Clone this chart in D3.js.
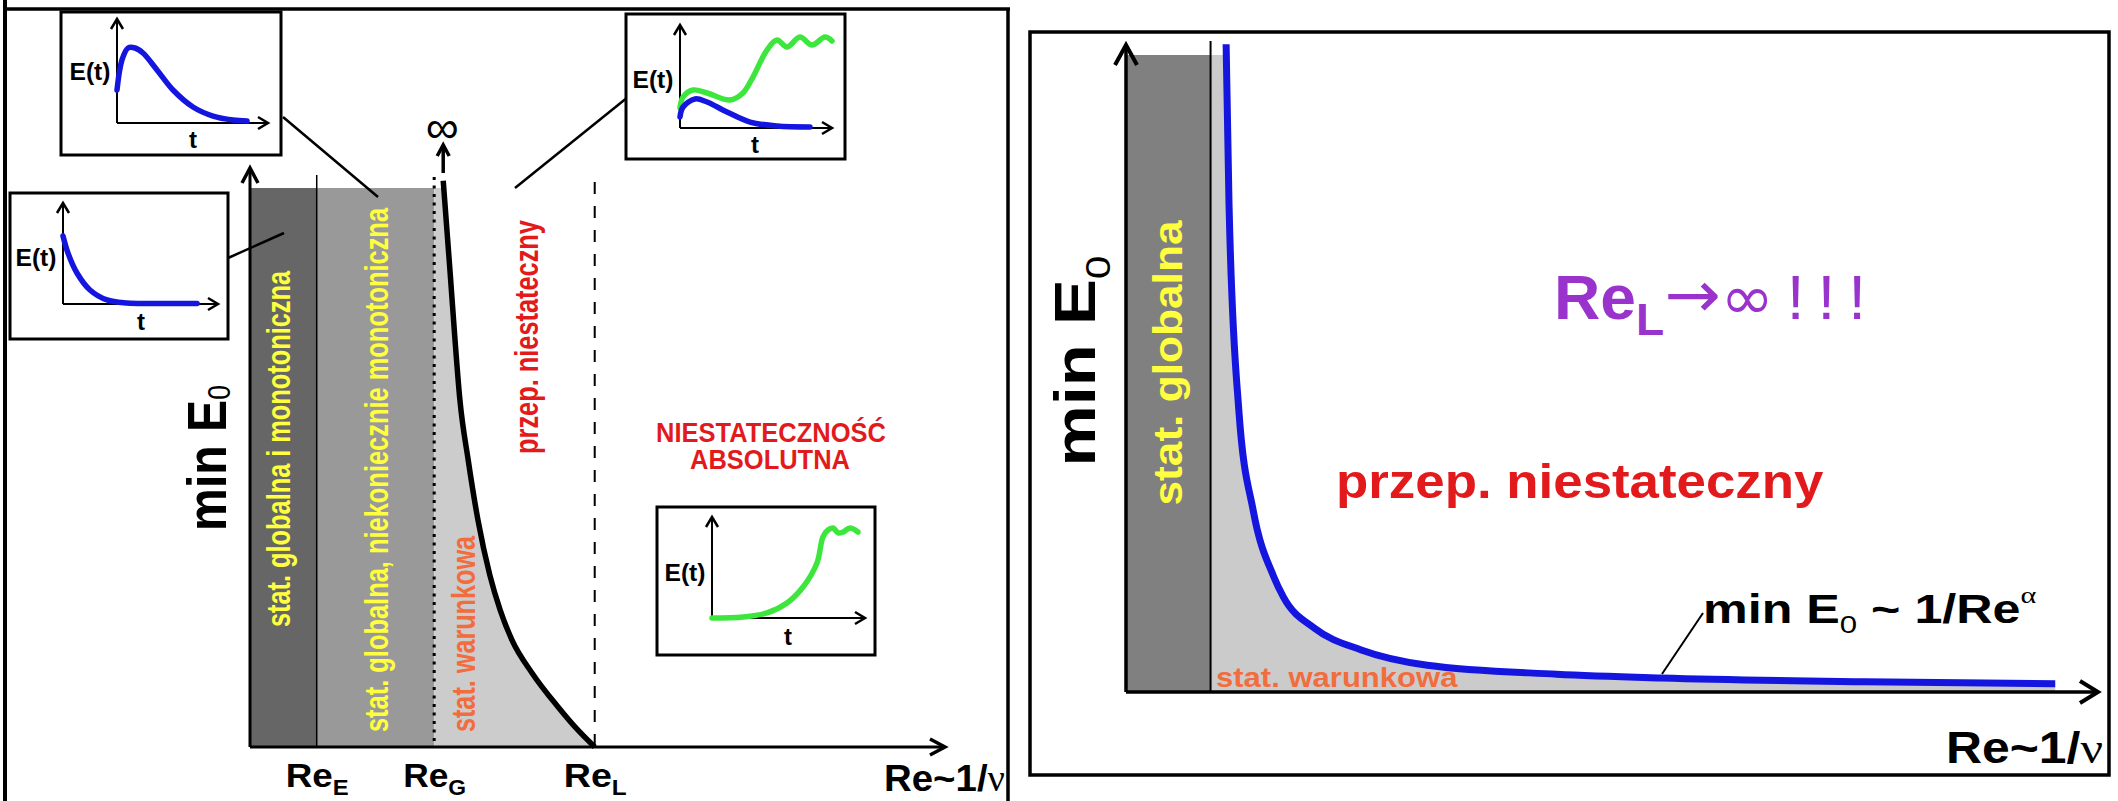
<!DOCTYPE html>
<html>
<head>
<meta charset="utf-8">
<script src="https://cdn.jsdelivr.net/npm/d3@7"></script>
<style>
  body { margin: 0; background: #fff; }
  text { font-family: "Liberation Sans", Arial, sans-serif; }
</style>
</head>
<body>
<svg id="chart"></svg>
<script>
const WIDTH = 2118, HEIGHT = 801;

// ---- left panel: regime boundaries Re_E, Re_G, Re_L (Re axis 0..100)
const regimeNames = ['E', 'G', 'L'];
const regimeRe    = [9.6, 26.5, 49.6];
// black boundary curve min E0 (E axis 0..100, 100 = top of shaded band)
const leftCurveRe = [27.8, 28.8, 29.5, 30.2, 31.4, 32.8, 34.5, 36.0, 37.7, 40.6, 44.3, 47.2, 49.6];
const leftCurveE  = [101.3, 84.8, 72.8, 62.1, 51.3, 40.6, 30.8, 24.5, 19.1, 13.2, 7.2, 3.0, 0];

// ---- right panel
const rightGlobalRe = 8.7;
const rightCurveRe = [10.3, 10.6, 11.6, 13.1, 15.2, 16.2, 19.4, 24.2, 31.0, 44.3, 55.1, 76.0, 95.6];
const rightCurveE  = [101.7, 76.5, 44.4, 28.4, 18.1, 14.9, 10.0, 6.6, 4.2, 2.8, 2.2, 1.6, 1.3];

// ---- inset E(t) sketches, t and E normalised 0..1 on the small axes
const inset1T = [0, .033, .073, .119, .172, .265, .371, .503, .636, .768, .861];
const inset1E = [.317, .606, .721, .721, .673, .51, .317, .154, .067, .029, .019];
const inset2T = [0, .032, .090, .174, .284, .413, .561, .865];
const inset2E = [.673, .505, .307, .139, .040, .010, .005, .005];
const inset3GreenT = [0, .02, .086, .178, .329, .414, .48, .572, .638, .704, .789, .868, .954, 1.0];
const inset3GreenE = [.194, .301, .369, .34, .272, .34, .495, .757, .854, .786, .883, .806, .883, .845];
const inset3BlueT  = [0, .02, .099, .178, .309, .461, .638, .855];
const inset3BlueE  = [.107, .204, .282, .252, .155, .058, .019, .01];
const inset4T = [0, .203, .359, .49, .595, .686, .725, .758, .791, .824, .856, .902, .954];
const inset4E = [0, .01, .05, .149, .307, .545, .802, .871, .891, .842, .851, .891, .851];

const BLUE = '#1515e0', GREEN = '#3ce63c', RED = '#e31a1c',
      YELLOW = '#ffff40', ORANGE = '#f26d3d', PURPLE = '#9933cc';
const SERIF = '"Liberation Serif", serif';

const svg = d3.select('#chart').attr('width', WIDTH).attr('height', HEIGHT);
svg.append('rect').attr('width', WIDTH).attr('height', HEIGHT).attr('fill', '#fff');

// text whose length along its reading direction is stretched to a target
function fitText(parent, o) {
  const g = parent.append('g')
    .attr('transform', 'translate(' + o.x + ',' + o.y + ') rotate(' + (o.rot || 0) + ')');
  const t = g.append('text')
    .attr('text-anchor', o.anchor || 'middle')
    .attr('font-size', o.size)
    .attr('font-weight', o.weight || 'bold')
    .attr('fill', o.fill || '#000');
  let shift = 0;
  (o.parts || [{ text: o.text }]).forEach(p => {
    const dy = (p.dy || 0) - shift;
    shift = p.dy || 0;
    t.append('tspan')
      .attr('dy', dy)
      .attr('font-size', o.size * (p.scale || 1))
      .attr('font-weight', p.weight || null)
      .attr('font-family', p.family || null)
      .text(p.text);
  });
  if (o.len) {
    const w = t.node().getBBox().width;
    t.attr('transform', 'scale(' + (o.len / w) + ',1)');
  }
  return t;
}

function chevron(g, x, y, dir, s, half, w) {
  const pts = dir === 'up'
    ? [[x - half, y + s], [x, y], [x + half, y + s]]
    : [[x - s, y - half], [x, y], [x - s, y + half]];
  g.append('path').attr('d', d3.line()(pts))
    .attr('fill', 'none').attr('stroke', '#000').attr('stroke-width', w);
}

function hline(g, x1, x2, y, w) {
  return g.append('line').attr('x1', x1).attr('x2', x2).attr('y1', y).attr('y2', y)
    .attr('stroke', '#000').attr('stroke-width', w);
}
function vline(g, x, y1, y2, w) {
  return g.append('line').attr('x1', x).attr('x2', x).attr('y1', y1).attr('y2', y2)
    .attr('stroke', '#000').attr('stroke-width', w);
}

// ================= LEFT PANEL =================
const left = svg.append('g');
vline(left, 5, 0, HEIGHT, 4);
hline(left, 5, 1010, 9, 3.5);
vline(left, 1008, 9, HEIGHT, 3.5);

const xL = d3.scaleLinear().domain([0, 100]).range([250, 945]);
const yL = d3.scaleLinear().domain([0, 100]).range([747, 188]);

// shaded bands
left.append('rect').attr('x', xL(0)).attr('y', yL(100))
  .attr('width', xL(regimeRe[0]) - xL(0)).attr('height', yL(0) - yL(100)).attr('fill', '#666');
left.append('rect').attr('x', xL(regimeRe[0])).attr('y', yL(100))
  .attr('width', xL(regimeRe[1]) - xL(regimeRe[0])).attr('height', yL(0) - yL(100)).attr('fill', '#999');

const leftCurve = leftCurveRe.map((r, i) => ({ re: r, e: leftCurveE[i] }));
left.append('clipPath').attr('id', 'clipL').append('rect')
  .attr('x', xL(regimeRe[1])).attr('y', yL(100)).attr('width', 400).attr('height', yL(0) - yL(100));
left.append('path')
  .datum([{ re: regimeRe[1], e: leftCurveE[0] }].concat(leftCurve))
  .attr('clip-path', 'url(#clipL)')
  .attr('fill', '#ccc')
  .attr('d', d3.area().curve(d3.curveMonotoneX).x(d => xL(d.re)).y0(yL(0)).y1(d => yL(d.e)));

// regime boundary lines
vline(left, xL(regimeRe[0]), 175, yL(0), 1.5);
vline(left, xL(regimeRe[1]), 177, yL(0), 3).attr('stroke-dasharray', '3,5.5');
vline(left, xL(regimeRe[2]), 182, yL(0), 2).attr('stroke-dasharray', '12,12');

left.append('path').datum(leftCurve)
  .attr('fill', 'none').attr('stroke', '#000').attr('stroke-width', 5.5)
  .attr('d', d3.line().curve(d3.curveMonotoneX).x(d => xL(d.re)).y(d => yL(d.e)));

// arrow to infinity above the curve
const infX = xL(leftCurveRe[0]);
vline(left, infX, 173, 147, 3.5);
chevron(left, infX, 145, 'up', 11, 6, 3.5);
fitText(left, { x: infX - 1, y: 143, text: '\u221e', size: 46, len: 33, weight: 'normal' });

// axes
vline(left, xL(0), yL(0), 170, 3);
chevron(left, xL(0), 168, 'up', 15, 8, 3.5);
hline(left, xL(0), xL(100) - 2, yL(0), 3);
chevron(left, xL(100), yL(0), 'right', 15, 8, 3.5);

const axL = left.append('g').attr('transform', 'translate(0,' + yL(0) + ')')
  .call(d3.axisBottom(xL).tickValues(regimeRe).tickSize(0).tickFormat(() => 'Re'));
axL.select('.domain').remove();
axL.selectAll('.tick text')
  .attr('y', 40).attr('dy', null)
  .attr('fill', '#000').attr('font-size', 34).attr('font-weight', 'bold')
  .attr('font-family', '"Liberation Sans", Arial, sans-serif')
  .each(function (d, i) {
    const t = d3.select(this);
    t.append('tspan').attr('dy', 8).attr('font-size', 22).text(regimeNames[i]);
    const w = this.getBBox().width;
    t.attr('transform', 'scale(' + (63 / w) + ',1)');
  });

fitText(left, { x: 884, y: 791, anchor: 'start', size: 37, len: 121,
  parts: [{ text: 'Re~1/' }, { text: '\u03bd', weight: 'normal', family: SERIF }] });

fitText(left, { x: 226, y: 458, rot: -90, size: 56, len: 146,
  parts: [{ text: 'min E' }, { text: '0', dy: 4, scale: 0.55, weight: 'normal' }] });

fitText(left, { x: 290, y: 449, rot: -90, size: 34, len: 357, fill: YELLOW,
  text: 'stat. globalna i monotoniczna' });
fitText(left, { x: 388, y: 470, rot: -90, size: 34, len: 525, fill: YELLOW,
  text: 'stat. globalna, niekoniecznie monotoniczna' });
fitText(left, { x: 475, y: 634, rot: -90, size: 34, len: 197, fill: ORANGE,
  text: 'stat. warunkowa' });
fitText(left, { x: 538, y: 337, rot: -90, size: 34, len: 234, fill: RED,
  text: 'przep. niestateczny' });

fitText(left, { x: 771, y: 442, size: 27, len: 230, fill: RED, text: 'NIESTATECZNO\u015a\u0106' });
fitText(left, { x: 770, y: 469, size: 27, len: 160, fill: RED, text: 'ABSOLUTNA' });

// connector lines from sketches to regions
[[283, 117, 378, 197], [228, 258, 284, 233], [628, 97, 515, 188]].forEach(c => {
  left.append('line').attr('x1', c[0]).attr('y1', c[1]).attr('x2', c[2]).attr('y2', c[3])
    .attr('stroke', '#000').attr('stroke-width', 2.5);
});

// inset sketches
function drawInset(b, series) {
  const g = svg.append('g');
  g.append('rect').attr('x', b.box[0]).attr('y', b.box[1])
    .attr('width', b.box[2] - b.box[0]).attr('height', b.box[3] - b.box[1])
    .attr('fill', '#fff').attr('stroke', '#000').attr('stroke-width', 3);
  const x = d3.scaleLinear().domain([0, 1]).range([b.ox, b.xTip]);
  const y = d3.scaleLinear().domain([0, 1]).range([b.oy, b.yTip]);
  vline(g, b.ox, b.oy, b.yTip + 2, 2);
  chevron(g, b.ox, b.yTip, 'up', 10, 6, 2.5);
  hline(g, b.ox, b.xTip - 2, b.oy, 2);
  chevron(g, b.xTip, b.oy, 'right', 10, 6, 2.5);
  series.forEach(s => {
    g.append('path').datum(s.t.map((t, i) => [t, s.e[i]]))
      .attr('fill', 'none').attr('stroke', s.color).attr('stroke-width', 5.5)
      .attr('stroke-linecap', 'round')
      .attr('d', d3.line().curve(d3.curveCatmullRom).x(d => x(d[0])).y(d => y(d[1])));
  });
  fitText(g, { x: b.eLab[0], y: b.eLab[1], size: 24, len: 41, text: 'E(t)' });
  fitText(g, { x: b.tLab[0], y: b.tLab[1], size: 24, text: 't' });
}

drawInset({ box: [61, 12, 281, 155], ox: 117, oy: 123, xTip: 268, yTip: 19, eLab: [90, 80], tLab: [193, 148] },
  [{ t: inset1T, e: inset1E, color: BLUE }]);
drawInset({ box: [10, 193, 228, 339], ox: 63, oy: 304, xTip: 218, yTip: 203, eLab: [36, 266], tLab: [141, 330] },
  [{ t: inset2T, e: inset2E, color: BLUE }]);
drawInset({ box: [626, 14, 845, 159], ox: 680, oy: 128, xTip: 832, yTip: 25, eLab: [653, 88], tLab: [755, 153] },
  [{ t: inset3GreenT, e: inset3GreenE, color: GREEN }, { t: inset3BlueT, e: inset3BlueE, color: BLUE }]);
drawInset({ box: [657, 507, 875, 655], ox: 712, oy: 618, xTip: 865, yTip: 517, eLab: [685, 581], tLab: [788, 645] },
  [{ t: inset4T, e: inset4E, color: GREEN }]);

// ================= RIGHT PANEL =================
const right = svg.append('g');
right.append('rect').attr('x', 1030).attr('y', 32).attr('width', 2109 - 1030).attr('height', 775 - 32)
  .attr('fill', 'none').attr('stroke', '#000').attr('stroke-width', 3.5);

const xR = d3.scaleLinear().domain([0, 100]).range([1126, 2098]);
const yR = d3.scaleLinear().domain([0, 100]).range([692, 55]);

right.append('rect').attr('x', xR(0)).attr('y', yR(100))
  .attr('width', xR(rightGlobalRe) - xR(0)).attr('height', yR(0) - yR(100)).attr('fill', '#808080');

const rightCurve = rightCurveRe.map((r, i) => ({ re: r, e: rightCurveE[i] }));
right.append('clipPath').attr('id', 'clipR').append('rect')
  .attr('x', xR(rightGlobalRe)).attr('y', yR(100)).attr('width', 1000).attr('height', yR(0) - yR(100));
right.append('path')
  .datum([{ re: rightGlobalRe, e: rightCurveE[0] }].concat(rightCurve))
  .attr('clip-path', 'url(#clipR)')
  .attr('fill', '#cbcbcb')
  .attr('d', d3.area().curve(d3.curveMonotoneX).x(d => xR(d.re)).y0(yR(0)).y1(d => yR(d.e)));

vline(right, xR(rightGlobalRe), 41, yR(0), 2);

fitText(right, { x: 1216, y: 687, anchor: 'start', size: 28, len: 242, fill: ORANGE, text: 'stat. warunkowa' });

right.append('path').datum(rightCurve)
  .attr('fill', 'none').attr('stroke', BLUE).attr('stroke-width', 7)
  .attr('d', d3.line().curve(d3.curveMonotoneX).x(d => xR(d.re)).y(d => yR(d.e)));

vline(right, xR(0), yR(0), 47, 3.5);
chevron(right, xR(0), 45, 'up', 20, 11, 4);
hline(right, xR(0), xR(100) - 2, yR(0), 3.5);
chevron(right, xR(100), yR(0), 'right', 18, 11, 4);

fitText(right, { x: 1946, y: 763, anchor: 'start', size: 44, len: 157,
  parts: [{ text: 'Re~1/' }, { text: '\u03bd', weight: 'normal', family: SERIF }] });

fitText(right, { x: 1095, y: 361, rot: -90, size: 57, len: 211,
  parts: [{ text: 'min E' }, { text: '0', dy: 15, scale: 0.62, weight: 'normal' }] });

fitText(right, { x: 1182, y: 363, rot: -90, size: 40, len: 286, fill: YELLOW, text: 'stat. globalna' });

fitText(right, { x: 1554, y: 319, anchor: 'start', size: 62, len: 312, fill: PURPLE,
  parts: [{ text: 'Re' }, { text: 'L', dy: 16, scale: 0.72 },
          { text: '\u2192', weight: 'normal', family: '"DejaVu Sans", sans-serif', scale: 1.05, dy: -2 },
          { text: '\u221e', weight: 'normal', family: '"DejaVu Sans", sans-serif', scale: 1.0 },
          { text: '\u2009!\u2009!\u2009!', weight: 'normal', scale: 1.0 }] });

fitText(right, { x: 1336, y: 498, anchor: 'start', size: 48, len: 488, fill: RED, text: 'przep. niestateczny' });

fitText(right, { x: 1703, y: 623, anchor: 'start', size: 40, len: 334,
  parts: [{ text: 'min E' }, { text: '0', dy: 10, scale: 0.62, weight: 'normal' },
          { text: ' ~ 1/Re' }, { text: '\u03b1', dy: -20, scale: 0.6, weight: 'normal', family: SERIF }] });

right.append('line').attr('x1', 1703).attr('y1', 613).attr('x2', 1662).attr('y2', 674)
  .attr('stroke', '#000').attr('stroke-width', 2);
</script>
</body>
</html>
